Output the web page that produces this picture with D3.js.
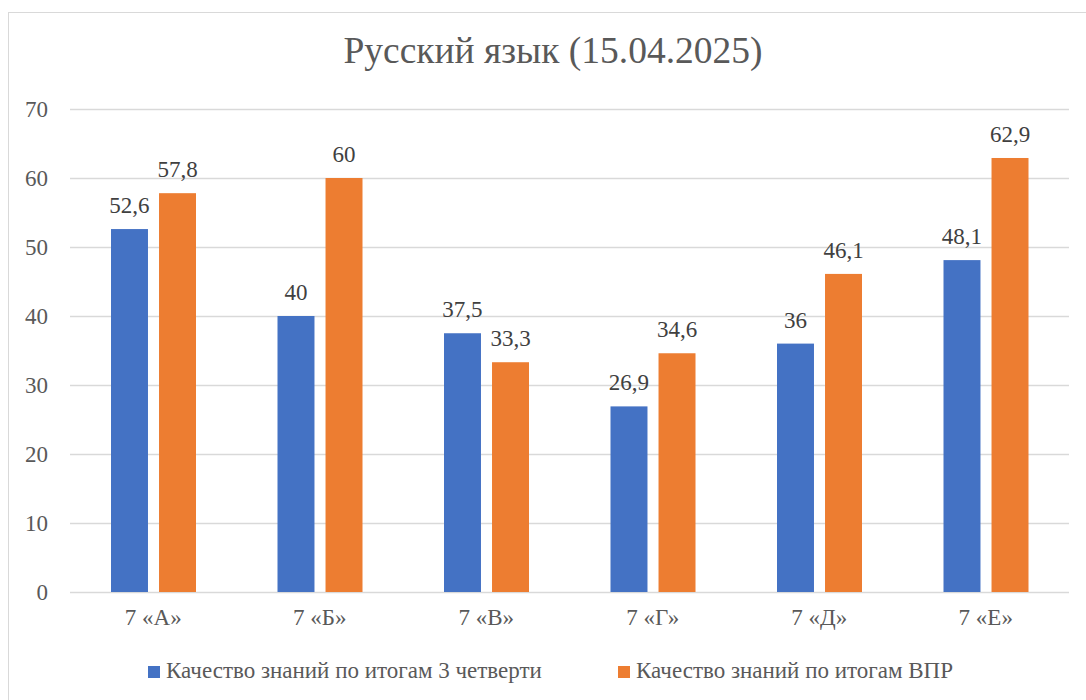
<!DOCTYPE html>
<html>
<head>
<meta charset="utf-8">
<script src="https://cdn.jsdelivr.net/npm/d3@7"></script>
<style>
  body { margin: 0; background: #fff; }
  svg, svg text { font-family: "Liberation Serif", "Times New Roman", serif; }
</style>
</head>
<body>
<div id="chart"></div>
<script>
// chart data
var categories = ["7 «А»", "7 «Б»", "7 «В»", "7 «Г»", "7 «Д»", "7 «Е»"]
var seriesNames = ["Качество знаний по итогам 3 четверти", "Качество знаний по итогам ВПР"]
var quarterValues = [52.6, 40, 37.5, 26.9, 36, 48.1]
var vprValues = [57.8, 60, 33.3, 34.6, 46.1, 62.9]
var yTicks = [0, 10, 20, 30, 40, 50, 60, 70]
var colors = ["#4472C4", "#ED7D31"]

var width = 1086, height = 700
var serif = "'Liberation Serif', 'Times New Roman', serif"

var svg = d3.select("#chart").append("svg")
    .attr("width", width)
    .attr("height", height)
    .attr("font-family", serif)

// outer frame
svg.append("rect")
    .attr("x", 8.5).attr("y", 12.5)
    .attr("width", 1090).attr("height", 700)
    .attr("fill", "none")
    .attr("stroke", "#d9d9d9")

svg.append("text")
    .attr("x", 553).attr("y", 63)
    .attr("text-anchor", "middle")
    .style("font-family", serif)
    .style("font-size", "37.5px")
    .attr("fill", "#595959")
    .text("Русский язык (15.04.2025)")

var plotLeft = 70, plotRight = 1069, plotTop = 109, plotBottom = 592

var x0 = d3.scaleBand().domain(categories).range([plotLeft, plotRight]).padding(0)
var x1 = d3.scaleBand().domain([0, 1]).range([41, 126]).paddingInner(0.23).paddingOuter(0)
var y = d3.scaleLinear().domain([0, 70]).range([plotBottom, plotTop])

// gridlines
svg.append("g").selectAll("line")
    .data(yTicks)
    .enter().append("line")
    .attr("x1", plotLeft).attr("x2", plotRight)
    .attr("y1", function(d) { return Math.round(y(d)) + 0.5 })
    .attr("y2", function(d) { return Math.round(y(d)) + 0.5 })
    .attr("stroke", "#d9d9d9")
    .attr("stroke-width", 1.3)

// y axis labels
var yAxis = svg.append("g")
    .attr("transform", "translate(" + plotLeft + ",0)")
    .call(d3.axisLeft(y).tickValues(yTicks).tickSize(0).tickPadding(22))
yAxis.select(".domain").remove()
yAxis.selectAll("text")
    .style("font-size", "23px")
    .style("font-family", serif)
    .attr("fill", "#595959")

// x axis labels
var xAxis = svg.append("g")
    .attr("transform", "translate(0," + plotBottom + ")")
    .call(d3.axisBottom(x0).tickSize(0).tickPadding(17))
xAxis.select(".domain").remove()
xAxis.selectAll("text")
    .style("font-size", "23px")
    .style("font-family", serif)
    .attr("fill", "#595959")

var rows = categories.map(function(c, i) {
    return { cat: c, values: [quarterValues[i], vprValues[i]] }
})

var groups = svg.append("g").selectAll("g")
    .data(rows)
    .enter().append("g")
    .attr("transform", function(d) { return "translate(" + x0(d.cat) + ",0)" })

groups.selectAll("rect")
    .data(function(d) { return d.values })
    .enter().append("rect")
    .attr("x", function(d, i) { return x1(i) })
    .attr("y", function(d) { return y(d) })
    .attr("width", x1.bandwidth())
    .attr("height", function(d) { return plotBottom - y(d) })
    .attr("fill", function(d, i) { return colors[i] })

groups.selectAll("text")
    .data(function(d) { return d.values })
    .enter().append("text")
    .attr("x", function(d, i) { return x1(i) + x1.bandwidth() / 2 })
    .attr("y", function(d) { return y(d) - 16 })
    .attr("text-anchor", "middle")
    .style("font-family", serif)
    .style("font-size", "23px")
    .attr("fill", "#404040")
    .text(function(d) { return String(d).replace(".", ",") })

// legend
var legendX = [148, 618]
var legend = svg.append("g").selectAll("g")
    .data(seriesNames)
    .enter().append("g")
    .attr("transform", function(d, i) { return "translate(" + legendX[i] + ",666)" })

legend.append("rect")
    .attr("width", 12).attr("height", 12)
    .attr("fill", function(d, i) { return colors[i] })

legend.append("text")
    .attr("x", 18).attr("y", 12)
    .style("font-family", serif)
    .style("font-size", "23px")
    .attr("fill", "#595959")
    .text(function(d) { return d })
</script>
</body>
</html>
